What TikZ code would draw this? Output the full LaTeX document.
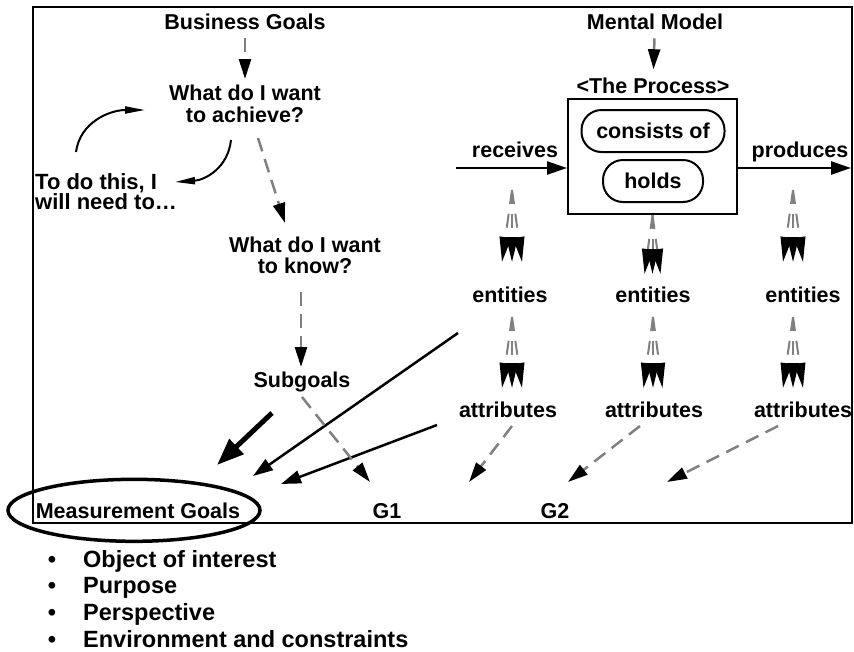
\documentclass[tikz,border=0pt]{standalone}
\usepackage{fontspec}
\setmainfont{Liberation Sans}
\usetikzlibrary{arrows.meta}
\begin{document}
\begin{tikzpicture}[x=1pt,y=-1pt,
  every node/.style={font=\fontsize{21.5}{22}\selectfont\bfseries,inner sep=0pt},
  dashar/.style={gray,line width=2.5pt,dash pattern=on 14pt off 8pt,-{Triangle[length=20pt,width=12pt,color=black]}},
  fanar/.style={gray,line width=2pt,dash pattern=on 14pt off 10pt,-{Triangle[length=25pt,width=11.5pt,color=black]}},
  solidar/.style={line width=2.5pt,-{Triangle[length=20pt,width=13pt]}},
  curvar/.style={line width=2pt,-{Triangle[length=20pt,width=7pt]}},
  pill/.style={draw,line width=2pt,rounded corners=20pt,minimum height=42pt}]
\useasboundingbox (0,0) rectangle (854,651);
% frame
\draw[line width=2pt] (33,7) rectangle (852,523);
% left column: goals
\node[anchor=base] (bg) at (245,29) {Business Goals};
\node[anchor=north,align=center] (ach) at (245,85) {What do I want\\to achieve?};
\node[anchor=north west,align=left,font=\fontsize{22}{20}\selectfont\bfseries] (todo) at (35,173) {To do this, I\\will need to\dots};
\node[anchor=north,align=center,font=\fontsize{21.5}{21}\selectfont\bfseries] (know) at (305,237) {What do I want\\to know?};
\node[anchor=base] (sub) at (302,387) {Subgoals};
\draw[dashar,shorten <=9pt,shorten >=6pt] (bg) -- (ach);
\coordinate (achout) at (258,138); \coordinate (knowin) at (285,223);
\draw[dashar] (achout) -- (knowin);
\coordinate (knowout) at (301,292); \coordinate (subin) at (301,367);
\draw[dashar] (knowout) -- (subin);
% loop between achieve and to do this
\coordinate (loopA) at (76,152); \coordinate (loopB) at (145,110);
\draw[curvar] (loopA) .. controls (80,122) and (110,110) .. (loopB);
\coordinate (loopC) at (231,140); \coordinate (loopD) at (175,182);
\draw[curvar] (loopC) .. controls (228,168) and (205,180) .. (loopD);
% right column: mental model
\node[anchor=base] (mm) at (655,29) {Mental Model};
\node[anchor=base] (ttl) at (653,93) {<The Process>};
\draw[dashar,shorten <=9pt,shorten >=8pt] (mm) -- (ttl);
\node[draw,line width=2pt,minimum width=169pt,minimum height=115pt] (proc) at (652.5,156.5) {};
\node[pill,minimum width=143pt] (cons) at (653,131) {consists of};
\node[pill,minimum width=100pt] (hold) at (653,181) {holds};
\node[anchor=base] (rec) at (515,157) {receives};
\node[anchor=base] (prod) at (800,157) {produces};
\coordinate (recin) at (456,168); \coordinate (prodout) at (851,168);
\draw[solidar] (recin) -- (recin -| proc.west);
\draw[solidar] (proc.east |- prodout) -- (prodout);
% entities and attributes
\foreach \i/\x in {1/510,2/653,3/803} \node[anchor=base] (ent\i) at (\x,302) {entities};
\foreach \i/\x in {1/508,2/654,3/803} \node[anchor=base] (att\i) at (\x,417) {attributes};
% fans
\foreach \x in {512,793} {
  \coordinate (fan\x) at (\x,190);
  \foreach \s in {-1,0,1} \draw[fanar] (fan\x) -- ++(\s*10,72);
}
\foreach \s in {-1,0,1} \draw[fanar] (proc.south) -- ++(\s*8,59);
\foreach \x/\d in {512/10,653/9.5,793/10} {
  \coordinate (fanb\x) at (\x,317);
  \foreach \s in {-1,0,1} \draw[fanar] (fanb\x) -- ++(\s*\d,71);
}
% measurement goals
\node[anchor=base] (mg) at (138,518) {Measurement Goals};
\draw[line width=3.5pt] ([xshift=-4pt]mg.center) ellipse [x radius=126, y radius=31];
\node[anchor=base] (g1) at (387,518) {G1};
\node[anchor=base] (g2) at (555,518) {G2};
% arrows into measurement goals
\coordinate (subout) at (272,413); \coordinate (mgin1) at (217,465);
\draw[line width=5pt,-{Triangle[length=27pt,width=20pt]}] (subout) -- (mgin1);
\coordinate (entout) at (458,333); \coordinate (mgin2) at (253,476);
\draw[solidar] (entout) -- (mgin2);
\coordinate (attout) at (437,425); \coordinate (mgin3) at (281,484);
\draw[solidar] (attout) -- (mgin3);
% dashed arrows to G1, G2
\coordinate (subg) at (302,397); \coordinate (g1in) at (370,482);
\draw[dashar] (subg) -- (g1in);
\foreach \i/\a/\b in {1/512/469,2/640/568,3/778/667} {
  \coordinate (attg\i) at (\a,426);
  \draw[dashar] (attg\i) -- (\b,482);
}
% goal template
\foreach \t/\y in {Object of interest/567,Purpose/593,Perspective/620,Environment and constraints/647} {
  \node[anchor=base,font=\fontsize{23.5}{24}\selectfont\bfseries] (bul\y) at (52,\y) {\textbullet};
  \node[anchor=base west,font=\fontsize{23.5}{24}\selectfont\bfseries] (itm\y) at (83,\y) {\t};
}
\end{tikzpicture}
\end{document}
